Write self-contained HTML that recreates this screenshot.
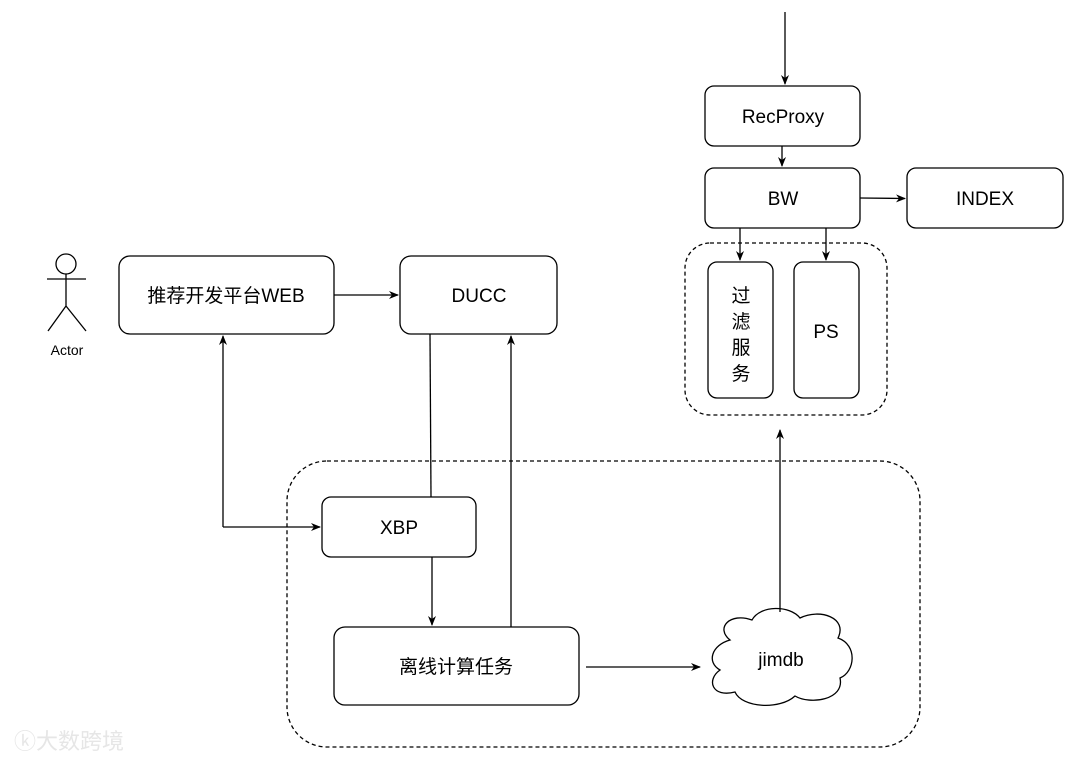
<!DOCTYPE html>
<html><head><meta charset="utf-8"><style>
html,body{margin:0;padding:0;background:#fff;}
svg text{font-family:"Liberation Sans","Noto Sans CJK SC",sans-serif;fill:#000;}
</style></head><body>
<svg width="1080" height="761" viewBox="0 0 1080 761" xmlns="http://www.w3.org/2000/svg">
<defs><marker id="a" markerWidth="10" markerHeight="10" refX="9" refY="5" orient="auto" markerUnits="userSpaceOnUse"><path d="M0,1 L10,5 L0,9 L3,5 Z" fill="#000"/></marker></defs>
<g fill="none" stroke="#000" stroke-width="1.3">
<rect x="287" y="461" width="633" height="286" rx="40" stroke-dasharray="4,3"/>
<rect x="685" y="243" width="202" height="172" rx="25" stroke-dasharray="4,3"/>
<rect x="705" y="86" width="155" height="60" rx="9"/>
<rect x="705" y="168" width="155" height="60" rx="9"/>
<rect x="907" y="168" width="156" height="60" rx="9"/>
<rect x="708" y="262" width="65" height="136" rx="9"/>
<rect x="794" y="262" width="65" height="136" rx="9"/>
<rect x="119" y="256" width="215" height="78" rx="11"/>
<rect x="400" y="256" width="157" height="78" rx="11"/>
<rect x="322" y="497" width="154" height="60" rx="9"/>
<rect x="334" y="627" width="245" height="78" rx="11"/>
<path d="M730,640 C715,628 730,612 752,620 C760,605 790,605 800,618 C820,608 848,618 838,638 C858,645 855,672 840,678 C845,700 810,705 795,696 C780,710 742,708 735,692 C712,698 706,680 720,670 C706,662 712,645 730,640 Z" fill="#fff"/>
<circle cx="66" cy="264" r="10"/>
<path d="M66,274 V306 M47,279 H86 M66,306 L48,331 M66,306 L86,331"/>
<path d="M785,12 V84" marker-end="url(#a)"/>
<path d="M782,146 V166" marker-end="url(#a)"/>
<path d="M860,198 L905,198.5" marker-end="url(#a)"/>
<path d="M740,228 V260" marker-end="url(#a)"/>
<path d="M826,228 V260" marker-end="url(#a)"/>
<path d="M334,295 H398" marker-end="url(#a)"/>
<path d="M223,527 V336" marker-end="url(#a)"/>
<path d="M223,527 H320" marker-end="url(#a)"/>
<path d="M430,334 L431,497"/>
<path d="M432,557 V625" marker-end="url(#a)"/>
<path d="M511,627 V336" marker-end="url(#a)"/>
<path d="M586,667 H700" marker-end="url(#a)"/>
<path d="M780,612 V430" marker-end="url(#a)"/>
</g>
<g font-size="19" text-anchor="middle">
<text x="783" y="123">RecProxy</text>
<text x="783" y="205">BW</text>
<text x="985" y="205">INDEX</text>
<text x="826" y="338">PS</text>
<text x="741" y="302">过</text><text x="741" y="328">滤</text><text x="741" y="354">服</text><text x="741" y="380">务</text>
<text x="226" y="302">推荐开发平台WEB</text>
<text x="479" y="302">DUCC</text>
<text x="399" y="534">XBP</text>
<text x="456" y="673">离线计算任务</text>
<text x="781" y="666">jimdb</text>
<text x="67" y="355" font-size="14">Actor</text>
</g>
<text x="14" y="749" font-size="22" fill="#eee" style="fill:#e6e6e6">ⓚ大数跨境</text>
</svg>
</body></html>
